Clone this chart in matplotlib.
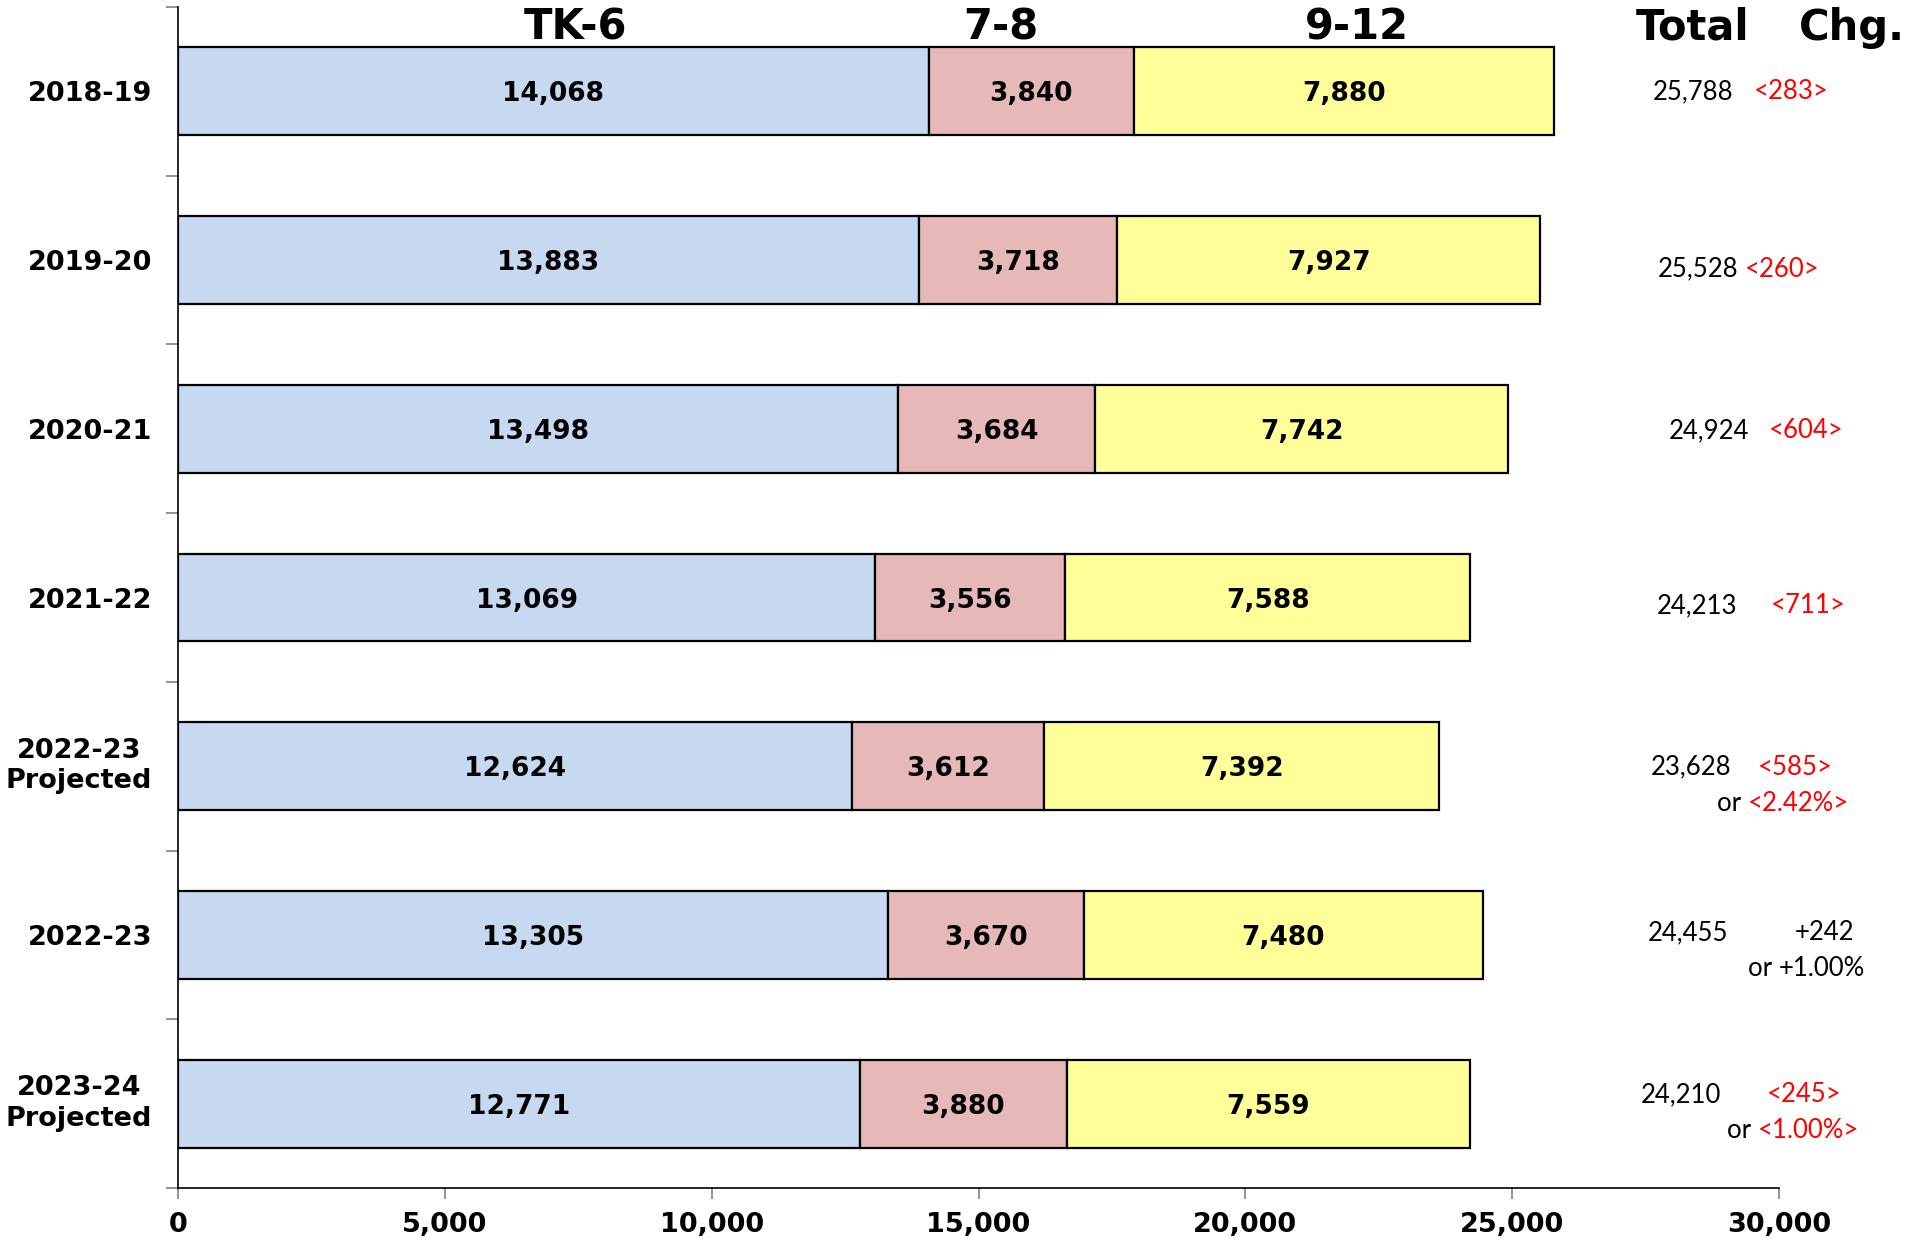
import matplotlib
matplotlib.use("Agg")
import matplotlib.pyplot as plt
import matplotlib.transforms as mtransforms
from matplotlib.ticker import FuncFormatter

# Enrollment by grade span
years = ["2018-19", "2019-20", "2020-21", "2021-22",
         "2022-23\nProjected", "2022-23", "2023-24\nProjected"]
tk6 = [14068, 13883, 13498, 13069, 12624, 13305, 12771]
g78 = [3840, 3718, 3684, 3556, 3612, 3670, 3880]
g912 = [7880, 7927, 7742, 7588, 7392, 7480, 7559]
spans = ["TK-6", "7-8", "9-12"]
totals = [25788, 25528, 24924, 24213, 23628, 24455, 24210]
changes = ["<283>", "<260>", "<604>", "<711>", "<585>", "+242", "<245>"]
pct_changes = [None, None, None, None, "<2.42%>", "+1.00%", "<1.00%>"]
x_ticks = [0, 5000, 10000, 15000, 20000, 25000, 30000]

colors = ["#C6D9F0", "#E6B9B8", "#FFFF99"]

W, H = 1921, 1239
fig = plt.figure(figsize=(W / 100, H / 100), dpi=100)
ax = fig.add_axes([178 / W, 1 - 1188 / H, (1779 - 178) / W, (1188 - 7) / H])

ypos = list(range(len(years)))
bar_h = 0.52
left = [0] * len(years)
for vals, col in zip([tk6, g78, g912], colors):
    bars = ax.barh(ypos, vals, left=left, height=bar_h, color=col,
                   edgecolor="black", linewidth=1.6, zorder=3)
    for b, v in zip(bars, vals):
        ax.text(b.get_x() + b.get_width() / 2, b.get_y() + b.get_height() / 2,
                f"{v:,}", ha="center", va="center_baseline", fontsize=19,
                fontweight="bold", color="black", zorder=4)
    left = [l + v for l, v in zip(left, vals)]

ax.set_xlim(0, 30000)
ax.set_ylim(len(years) - 0.5, -0.5)

# axes styling
for s in ["top", "right"]:
    ax.spines[s].set_visible(False)
for s in ["left", "bottom"]:
    ax.spines[s].set_linewidth(1.2)
    ax.spines[s].set_color("black")

ax.set_xticks(x_ticks)
ax.xaxis.set_major_formatter(FuncFormatter(lambda v, p: f"{int(v):,}"))
ax.tick_params(axis="x", direction="out", length=8, width=1.2, color="#808080",
               pad=9, labelsize=19.5)
for lab in ax.get_xticklabels():
    lab.set_fontweight("bold")

# y ticks at category boundaries, labels centred on rows
ax.set_yticks([i - 0.5 for i in range(len(years) + 1)])
ax.set_yticklabels([])
ax.tick_params(axis="y", direction="out", length=9, width=1.2, color="#808080")
row_lab_tr = mtransforms.offset_copy(
    mtransforms.blended_transform_factory(ax.transAxes, ax.transData),
    fig=fig, x=-26, y=0, units="dots")
for i, y in enumerate(years):
    multi = "\n" in y
    ax.text(0, i, y, transform=row_lab_tr, ha="right",
            va="center" if multi else "center_baseline",
            ma="center", fontsize=19.5, fontweight="bold", linespacing=1.22,
            clip_on=False)

# column headers above the bars
hdr_tr = mtransforms.blended_transform_factory(ax.transData, fig.transFigure)
hdr_y = 1 - 28 / H
for name, xc in zip(spans, [7457, 15421, 22091]):
    ax.text(xc, hdr_y, name, transform=hdr_tr, ha="center", va="center",
            fontsize=30, fontweight="bold", clip_on=False)

fig.text(1693 / W, hdr_y, "Total", ha="center", va="center",
         fontsize=30, fontweight="bold")
fig.text(1852 / W, hdr_y, "Chg.", ha="center", va="center",
         fontsize=30, fontweight="bold")

# totals and change annotations on the right
tot_x = [1693, 1698, 1709, 1697, 1691, 1688, 1681]
tot_dy = [0, 9, 2, 8, 1, -2, -9]
chg_x = [1791, 1782, 1806, 1808, 1795, 1824, 1804]
pct_x = [None, None, None, None, 1783, 1807, 1793]
pct_dy = 36

right_tr = mtransforms.blended_transform_factory(fig.transFigure, ax.transData)
font_r = "Lato"
fs_r = 18.5
fig.canvas.draw()
renderer = fig.canvas.get_renderer()
for i in range(len(years)):
    tr = mtransforms.offset_copy(right_tr, fig=fig, x=0, y=-tot_dy[i], units="dots")
    ax.text(tot_x[i] / W, i, f"{totals[i]:,}", transform=tr, ha="center",
            va="center", fontsize=fs_r, family=font_r, clip_on=False)
    neg = changes[i].startswith("<")
    ax.text(chg_x[i] / W, i, changes[i], transform=tr, ha="center", va="center",
            fontsize=fs_r, family=font_r, color="red" if neg else "black",
            clip_on=False)
    if pct_changes[i] is not None:
        tr2 = mtransforms.offset_copy(right_tr, fig=fig, x=0,
                                      y=-tot_dy[i] - pct_dy, units="dots")
        pneg = pct_changes[i].startswith("<")
        # split "or " and the value so each can take its own colour
        t_or = ax.text(0, 0, "or ", fontsize=fs_r, family=font_r)
        t_val = ax.text(0, 0, pct_changes[i], fontsize=fs_r, family=font_r)
        w_or = t_or.get_window_extent(renderer).width
        w_val = t_val.get_window_extent(renderer).width
        t_or.remove()
        t_val.remove()
        start = pct_x[i] - (w_or + w_val) / 2
        ax.text(start / W, i, "or ", transform=tr2, ha="left", va="center",
                fontsize=fs_r, family=font_r, color="black", clip_on=False)
        ax.text((start + w_or) / W, i, pct_changes[i], transform=tr2,
                ha="left", va="center", fontsize=fs_r, family=font_r,
                color="red" if pneg else "black", clip_on=False)

fig.savefig("out.png", dpi=100, facecolor="white")
